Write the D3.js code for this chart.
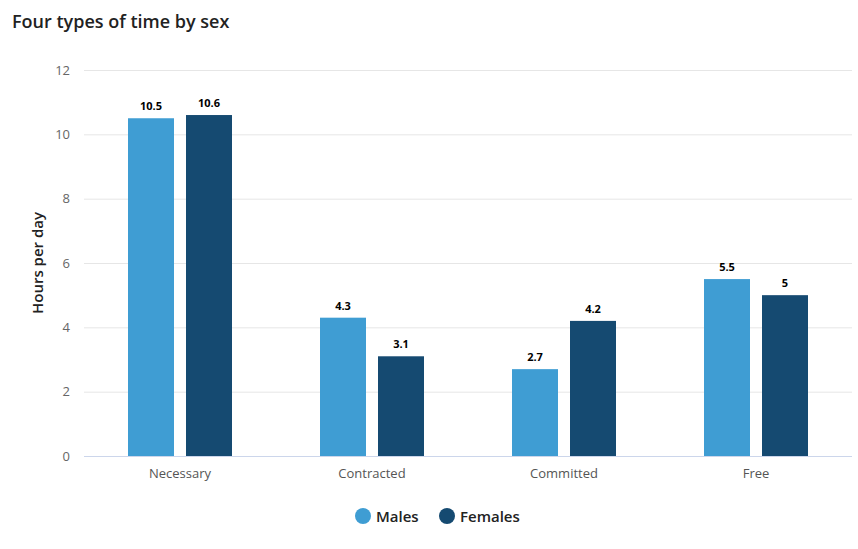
<!DOCTYPE html>
<html><head><meta charset="utf-8">
<script src="https://cdn.jsdelivr.net/npm/d3@7"></script>
<style>body{margin:0;background:#fff;}svg{display:block;font-family:"Open Sans","Noto Sans",sans-serif;}</style>
</head><body><svg id="c" width="858" height="549"></svg>
<script>
const categories = ["Necessary","Contracted","Committed","Free"];
const seriesNames = ["Males","Females"];
const males = [10.5,4.3,2.7,5.5];
const females = [10.6,3.1,4.2,5];
const yTicks = [0,2,4,6,8,10,12];
const colors = ["#3f9dd3","#154a71"];

(function(){
const svg = d3.select("#c");
const pL=84, pR=852, pT=70, pB=456;
const x0 = d3.scaleBand().domain(categories).range([pL,pR]).padding(0);
const bw = x0.bandwidth();
const x1 = d3.scaleBand().domain(seriesNames).range([bw*0.2292, bw*0.7708]).paddingInner(0.2069).paddingOuter(0);
const y = d3.scaleLinear().domain([0,12]).range([pB,pT]);

svg.append("g").selectAll("line").data(yTicks.filter(d=>d>0)).join("line")
  .attr("x1",pL).attr("x2",pR).attr("y1",d=>y(d)+0.5).attr("y2",d=>y(d)+0.5)
  .attr("stroke","#e6e6e6");
svg.append("g").selectAll("text").data(yTicks).join("text")
  .attr("x",70).attr("y",d=>y(d)+4.5).attr("text-anchor","end")
  .attr("font-size",13).attr("fill","#666").text(d=>d);
svg.append("line").attr("x1",pL).attr("x2",pR).attr("y1",pB+0.5).attr("y2",pB+0.5).attr("stroke","#ccd6eb");

const data = seriesNames.map((s,i)=>({name:s, values:(i===0?males:females)}));
const g = svg.append("g");
data.forEach((s,i)=>{
  g.selectAll(".b"+i).data(s.values).join("rect").attr("class","b"+i)
    .attr("x",(d,j)=>x0(categories[j])+x1(s.name))
    .attr("width",x1.bandwidth())
    .attr("y",d=>y(d)).attr("height",d=>pB-y(d))
    .attr("fill",colors[i]);
  g.selectAll(".l"+i).data(s.values).join("text").attr("class","l"+i)
    .attr("x",(d,j)=>x0(categories[j])+x1(s.name)+x1.bandwidth()/2)
    .attr("y",d=>y(d)-8).attr("text-anchor","middle")
    .attr("font-size",11).attr("font-weight","bold").attr("fill","#000").text(d=>d);
});
svg.append("g").selectAll("text").data(categories).join("text")
  .attr("x",d=>x0(d)+bw/2).attr("y",478).attr("text-anchor","middle")
  .attr("font-size",13).attr("fill","#555").text(d=>d);
svg.append("text").attr("transform",`translate(43,${(pT+pB)/2}) rotate(-90)`)
  .attr("text-anchor","middle").attr("font-size",15).attr("font-weight",600).attr("fill","#222").text("Hours per day");
svg.append("text").attr("x",12).attr("y",28).attr("font-size",18).attr("font-weight",600).attr("fill","#222").text("Four types of time by sex");
const leg = svg.append("g");
const lx=[363,447];
seriesNames.forEach((s,i)=>{
  leg.append("circle").attr("cx",lx[i]).attr("cy",516).attr("r",8).attr("fill",colors[i]);
  leg.append("text").attr("x",lx[i]+13).attr("y",521.5).attr("font-size",15).attr("font-weight",600).attr("fill","#222").text(s);
});
})();
</script></body></html>
